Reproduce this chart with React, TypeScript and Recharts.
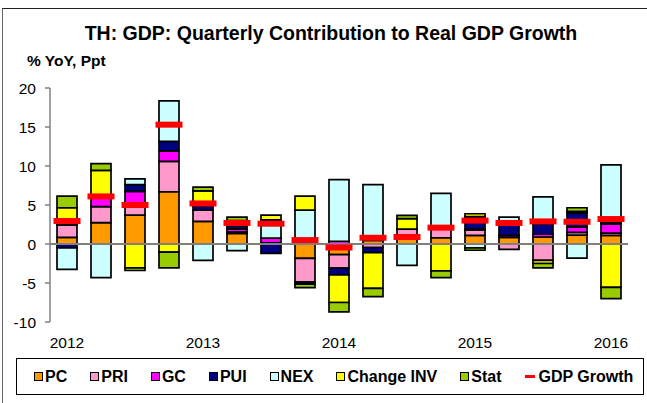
import React from 'react';
import { ComposedChart, Bar, Line, XAxis, YAxis, ReferenceLine } from 'recharts';

const quarters = ['2012Q1','2012Q2','2012Q3','2012Q4','2013Q1','2013Q2','2013Q3','2013Q4','2014Q1','2014Q2','2014Q3','2014Q4','2015Q1','2015Q2','2015Q3','2015Q4','2016Q1'];
const yearTicks = ['2012Q1','2013Q1','2014Q1','2015Q1','2016Q1'];
const yTicks = [-10, -5, 0, 5, 10, 15, 20];

const pc   = [0.85, 2.75, 3.7, 6.7, 2.9, 1.35, 0, -1.85, -1.35, 0.45, 0.85, 0.8, 1.1, 0.85, 0.9, 1.15, 1.1];
const pri  = [1.6, 2.05, 1.25, 3.9, 1.45, 0.2, 0.15, -3.0, -1.75, -0.45, 1.05, 1.1, 0.7, -0.7, -2.1, 0.35, 0.3];
const gc   = [0, 1.3, 1.8, 1.35, 0, 0.4, 0.6, 0, 0.35, 0, 0, 0, 0.1, 0.25, 0.35, 0.7, 1.15];
const pui  = [-0.5, 0, 0.85, 1.2, 0.55, 0.35, -1.2, -0.3, -0.85, -0.65, 0, 0, 1.6, 1.8, 1.35, 1.8, 0.2];
const nex  = [-2.75, -4.3, 0.75, 5.2, -2.1, -0.85, 2.35, 4.35, 7.9, 7.15, -2.75, 4.6, -0.5, 0.55, 3.45, -1.8, 7.4];
const inv  = [2.2, 3.35, -3.05, -1.05, 1.9, 0.7, 0.6, 1.8, -3.55, -4.6, 1.35, -3.45, 0.38, 0, -0.4, 0.2, -5.55];
const stat = [1.5, 0.85, -0.35, -2.0, 0.5, 0.45, 0, -0.45, -1.2, -1.05, 0.42, -0.87, -0.3, 0, -0.55, 0.45, -1.45];
const gdp  = [2.95, 6.1, 5.0, 15.3, 5.2, 2.7, 2.6, 0.5, -0.45, 0.8, 0.9, 2.1, 3.0, 2.7, 2.9, 2.85, 3.2];

const seriesKeys = ['pc', 'pri', 'gc', 'pui', 'nex', 'inv', 'stat'];
const seriesNames = ['PC', 'PRI', 'GC', 'PUI', 'NEX', 'Change INV', 'Stat'];
const seriesColors = ['#FF9900', '#FF99CC', '#FF00FF', '#000080', '#CCFFFF', '#FFFF00', '#99CC00'];
const gdpName = 'GDP Growth';
const gdpColor = '#FF0000';

const seriesValues = [pc, pri, gc, pui, nex, inv, stat];
const data = quarters.map((q, i) => {
  const row: any = { q, gdp: gdp[i] };
  seriesKeys.forEach((k, j) => { row[k] = seriesValues[j][i]; });
  return row;
});

const FONT = '"Liberation Sans", Arial, Helvetica, sans-serif';

const Dash = (props: any) => {
  const { cx, cy } = props;
  if (cx == null || cy == null) return null;
  return <rect x={cx - 13.5} y={cy - 3} width={27} height={6} fill={gdpColor} />;
};

export default function App() {
  return (
    <div style={{ position: 'absolute', left: 0, top: 0, width: 647, height: 403, background: '#fff', fontFamily: FONT, overflow: 'hidden' }}>
      <div style={{ position: 'absolute', left: 2, top: 8, width: 650, height: 400, borderLeft: '1.5px solid #666', borderTop: '1.5px solid #222' }} />
      <div style={{ position: 'absolute', left: 0, width: 662, top: 22, textAlign: 'center', fontWeight: 'bold', fontSize: 19.5, color: '#000', whiteSpace: 'nowrap' }}>
        TH: GDP: Quarterly Contribution to Real GDP Growth
      </div>
      <div style={{ position: 'absolute', left: 27, top: 52, fontWeight: 'bold', fontSize: 15.5, color: '#000', whiteSpace: 'nowrap' }}>
        % YoY, Ppt
      </div>
      <div style={{ position: 'absolute', left: 0, top: 0 }}>
        <ComposedChart width={647} height={403} data={data} stackOffset="sign" barCategoryGap={0}
          margin={{ top: 88, right: 19, bottom: 51, left: 10 }}>
          <XAxis dataKey="q" ticks={yearTicks} interval={0} tickFormatter={(v: string) => v.slice(0, 4)}
            axisLine={false} tickLine={false} tickSize={0} tickMargin={15} height={30}
            tick={{ fill: '#000', fontSize: 15.5, fontFamily: FONT }} />
          <YAxis domain={[-10, 20]} ticks={yTicks} interval={0} width={40}
            axisLine={{ stroke: '#808080', strokeWidth: 1.5 }} tickLine={{ stroke: '#808080', strokeWidth: 1.5 }}
            tickSize={5} tickMargin={9} allowDataOverflow
            tick={{ fill: '#000', fontSize: 15.5, fontFamily: FONT }} />
          <ReferenceLine y={0} stroke="#808080" strokeWidth={2} />
          {seriesKeys.map((k, j) => (
            <Bar key={k} dataKey={k} name={seriesNames[j]} stackId="a" fill={seriesColors[j]}
              stroke="#000" strokeWidth={1.7} barSize={20} isAnimationActive={false} />
          ))}
          <Line dataKey="gdp" name={gdpName} stroke="none" dot={<Dash />} activeDot={false}
            isAnimationActive={false} legendType="none" />
        </ComposedChart>
      </div>
      <div style={{ position: 'absolute', left: 16, top: 358, width: 628, height: 37, border: '1px solid #000', boxSizing: 'border-box',
        display: 'flex', alignItems: 'center', paddingLeft: 17, gap: 23, fontWeight: 'bold', fontSize: 16, color: '#000', whiteSpace: 'nowrap' }}>
        {seriesNames.map((n, j) => (
          <div key={n} style={{ display: 'flex', alignItems: 'center' }}>
            <span style={{ display: 'inline-block', width: 7, height: 7, background: seriesColors[j], border: '1px solid #000', marginRight: 2 }} />
            <span>{n}</span>
          </div>
        ))}
        <div style={{ display: 'flex', alignItems: 'center' }}>
          <span style={{ display: 'inline-block', width: 10, height: 3, background: gdpColor, marginRight: 4 }} />
          <span>{gdpName}</span>
        </div>
      </div>
    </div>
  );
}
